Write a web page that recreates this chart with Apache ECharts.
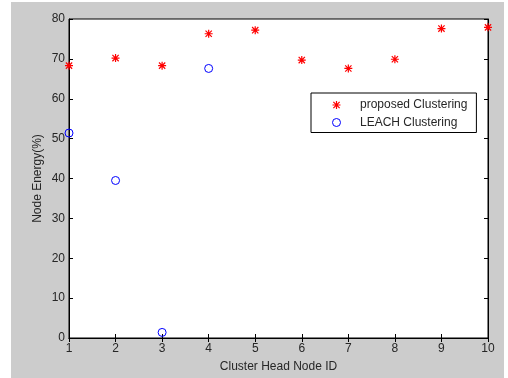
<!DOCTYPE html>
<html>
<head>
<meta charset="utf-8">
<script src="https://cdn.jsdelivr.net/npm/echarts@6/dist/echarts.min.js"></script>
<style>
  html, body { margin: 0; padding: 0; background: #fff; }
  #chart { width: 508px; height: 378px; }
</style>
</head>
<body>
<div id="chart"></div>
<script>
// node ids on the x axis
const nodeIds = [1, 2, 3, 4, 5, 6, 7, 8, 9, 10];
// energy left in each cluster head (%)
const proposedEnergy = [68.3, 70.2, 68.3, 76.3, 77.2, 69.7, 67.6, 69.9, 77.6, 77.9];
const leachIds = [1, 2, 3, 4];
const leachEnergy = [51.4, 39.5, 1.4, 67.6];

// matlab style '*' marker
const starPath = 'path://M8.5 0h3v20h-3z M0 8.5h20v3h-20z ' +
  'M3.2 1.1L18.9 16.8L16.8 18.9L1.1 3.2Z M16.8 1.1L18.9 3.2L3.2 18.9L1.1 16.8Z';

const chart = echarts.init(document.getElementById('chart'));

const fontBase = { fontFamily: 'Liberation Sans, Arial, sans-serif', fontSize: 12, color: '#262626' };
const tickIn = { show: true, inside: true, length: 4, lineStyle: { color: '#000' } };

let option = {
  animation: false,
  backgroundColor: '#fff',
  graphic: [{
    type: 'rect', z: -10, silent: true,
    shape: { x: 11, y: 2, width: 493, height: 376 },
    style: { fill: '#cccccc' }
  }],
  grid: {
    left: 69, top: 19, right: 20, bottom: 36,
    show: true, backgroundColor: '#fff', borderColor: '#000', borderWidth: 1
  },
  legend: {
    orient: 'vertical',
    left: 311, top: 93,
    backgroundColor: '#fff', borderColor: '#000', borderWidth: 1, borderRadius: 0,
    padding: [6, 9, 4, 21],
    itemWidth: 25, itemHeight: 8, itemGap: 5.5,
    itemStyle: { borderWidth: 1 },
    textStyle: Object.assign({ padding: [0, 0, 0, 6] }, fontBase),
    data: ['proposed Clustering', 'LEACH Clustering']
  },
  xAxis: [{
    type: 'value', min: 1, max: 10, interval: 1,
    name: 'Cluster Head Node ID', nameLocation: 'middle', nameGap: 23,
    nameMoveOverlap: false,
    nameTextStyle: fontBase,
    axisLine: { lineStyle: { color: '#000' } },
    axisTick: tickIn,
    axisLabel: Object.assign({ margin: 5 }, fontBase),
    splitLine: { show: false }
  }, {
    type: 'value', position: 'top', min: 1, max: 10, interval: 1,
    axisLine: { show: true, lineStyle: { color: '#000' } },
    axisTick: tickIn, axisLabel: { show: false }, splitLine: { show: false }
  }],
  yAxis: [{
    type: 'value', min: 0, max: 80, interval: 10,
    name: 'Node Energy(%)', nameLocation: 'middle', nameGap: 25,
    nameMoveOverlap: false,
    nameTextStyle: fontBase,
    axisLine: { show: true, lineStyle: { color: '#000' } },
    axisTick: tickIn,
    axisLabel: Object.assign({ margin: 4 }, fontBase),
    splitLine: { show: false }
  }, {
    type: 'value', position: 'right', min: 0, max: 80, interval: 10,
    axisLine: { show: true, lineStyle: { color: '#000' } },
    axisTick: tickIn, axisLabel: { show: false }, splitLine: { show: false }
  }],
  series: [{
    name: 'proposed Clustering',
    type: 'scatter',
    symbol: starPath, symbolSize: 8, symbolKeepAspect: true,
    itemStyle: { color: '#ff0000', opacity: 1 },
    data: nodeIds.map((id, i) => [id, proposedEnergy[i]])
  }, {
    name: 'LEACH Clustering',
    type: 'scatter',
    symbol: 'circle', symbolSize: 8,
    itemStyle: { color: 'rgba(255,255,255,0)', borderColor: '#0000ff', borderWidth: 1, opacity: 1 },
    data: leachIds.map((id, i) => [id, leachEnergy[i]])
  }]
};

chart.setOption(option);
</script>
</body>
</html>
